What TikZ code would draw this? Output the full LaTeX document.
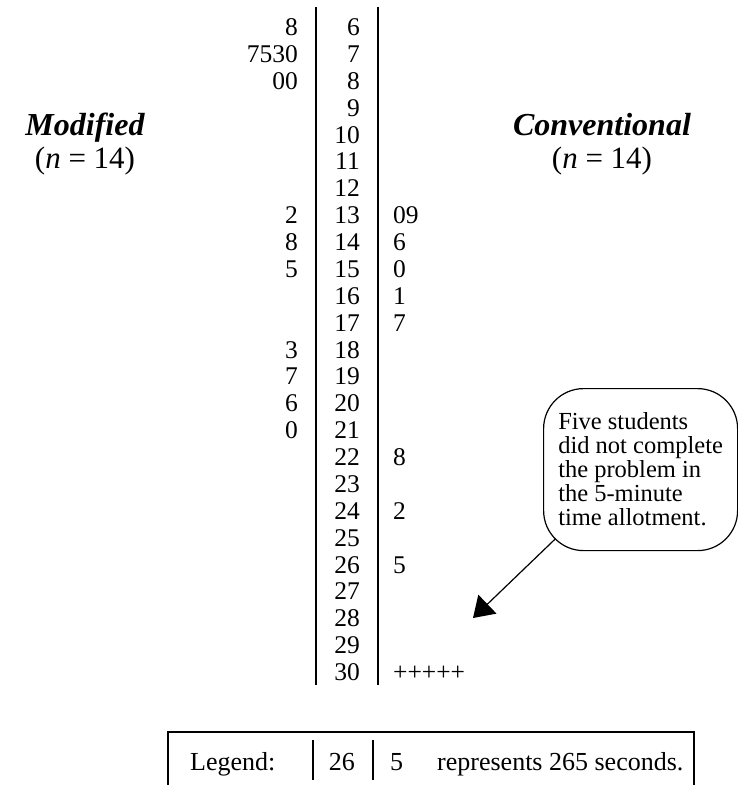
\documentclass[tikz,border=0pt]{standalone}
\usepackage{fontspec}
\setmainfont{Liberation Serif}
\usetikzlibrary{arrows.meta,positioning}

\begin{document}
\begin{tikzpicture}[x=1pt,y=-1pt,>={Triangle[length=20pt,width=26pt]},
	every node/.style={inner sep=0pt,font=\fontsize{25.5}{27}\selectfont},
	stemnum/.style={anchor=base east},
	leafL/.style={anchor=base east},
	leafR/.style={anchor=base west},
	head/.style={anchor=base,font=\fontsize{32}{34}\selectfont\bfseries\itshape},
	sub/.style={anchor=base,font=\fontsize{31}{33}\selectfont},
	bar/.style={line width=2.5pt}]
		\useasboundingbox (0,0) rectangle (738,785);
		% stems
		\foreach \s in {6,...,30}
			\node[stemnum] (s\s) at (360,{35.5+(\s-6)*26.875}) {\s};
		\draw[bar] (316,7)--(316,685);
		\draw[bar] (378,7)--(378,685);
		% leaves, modified
		\foreach \s/\lf in {6/8,7/7530,8/00,13/2,14/8,15/5,18/3,19/7,20/6,21/0}
			\node[leafL] (m\s) at ([xshift=-62pt]s\s.base east) {\lf};
		% leaves, conventional
		\foreach \s/\lf in {13/09,14/6,15/0,16/1,17/7,22/8,24/2,26/5,30/+++++}
			\node[leafR] (c\s) at ([xshift=33pt]s\s.base east) {\lf};
		\node[head] (modhead) at (85,135) {Modified};
		\node[sub] (modn) at (85,168) {(\textit{n} = 14)};
		\node[head] (convhead) at (602,135) {Conventional};
		\node[sub] (convn) at (602,168) {(\textit{n} = 14)};
		% note
		\node[draw,line width=1.2pt,rounded corners=40pt,anchor=north west,
			minimum width=194pt,minimum height=162pt,align=left,
			font=\fontsize{24.5}{24}\selectfont] (callout) at (543,388)
			{Five students\\did not complete\\the problem in\\the 5-minute\\time allotment.};
		\coordinate (tip) at (473,618);
		\draw[->,line width=1.2pt] ([shift={(12,-12)}]callout.south west)--(tip);
		% legend
		\draw[line width=2pt] (168,785)--(168,732)--(694,732)--(694,785);
		\node[anchor=base west,font=\fontsize{26}{28}\selectfont] (lgd) at (190,770) {Legend:};
		\node[anchor=base east,font=\fontsize{26}{28}\selectfont] (lgdstem) at (355,770) {26};
		\node[anchor=base west,font=\fontsize{26}{28}\selectfont] (lgdleaf) at (390,770) {5};
		\node[anchor=base west,font=\fontsize{26}{28}\selectfont] (lgdtext) at (437,770) {represents 265 seconds.};
		\draw[bar] (313,740)--(313,780);
		\draw[bar] (373,740)--(373,780);
\end{tikzpicture}
\end{document}
